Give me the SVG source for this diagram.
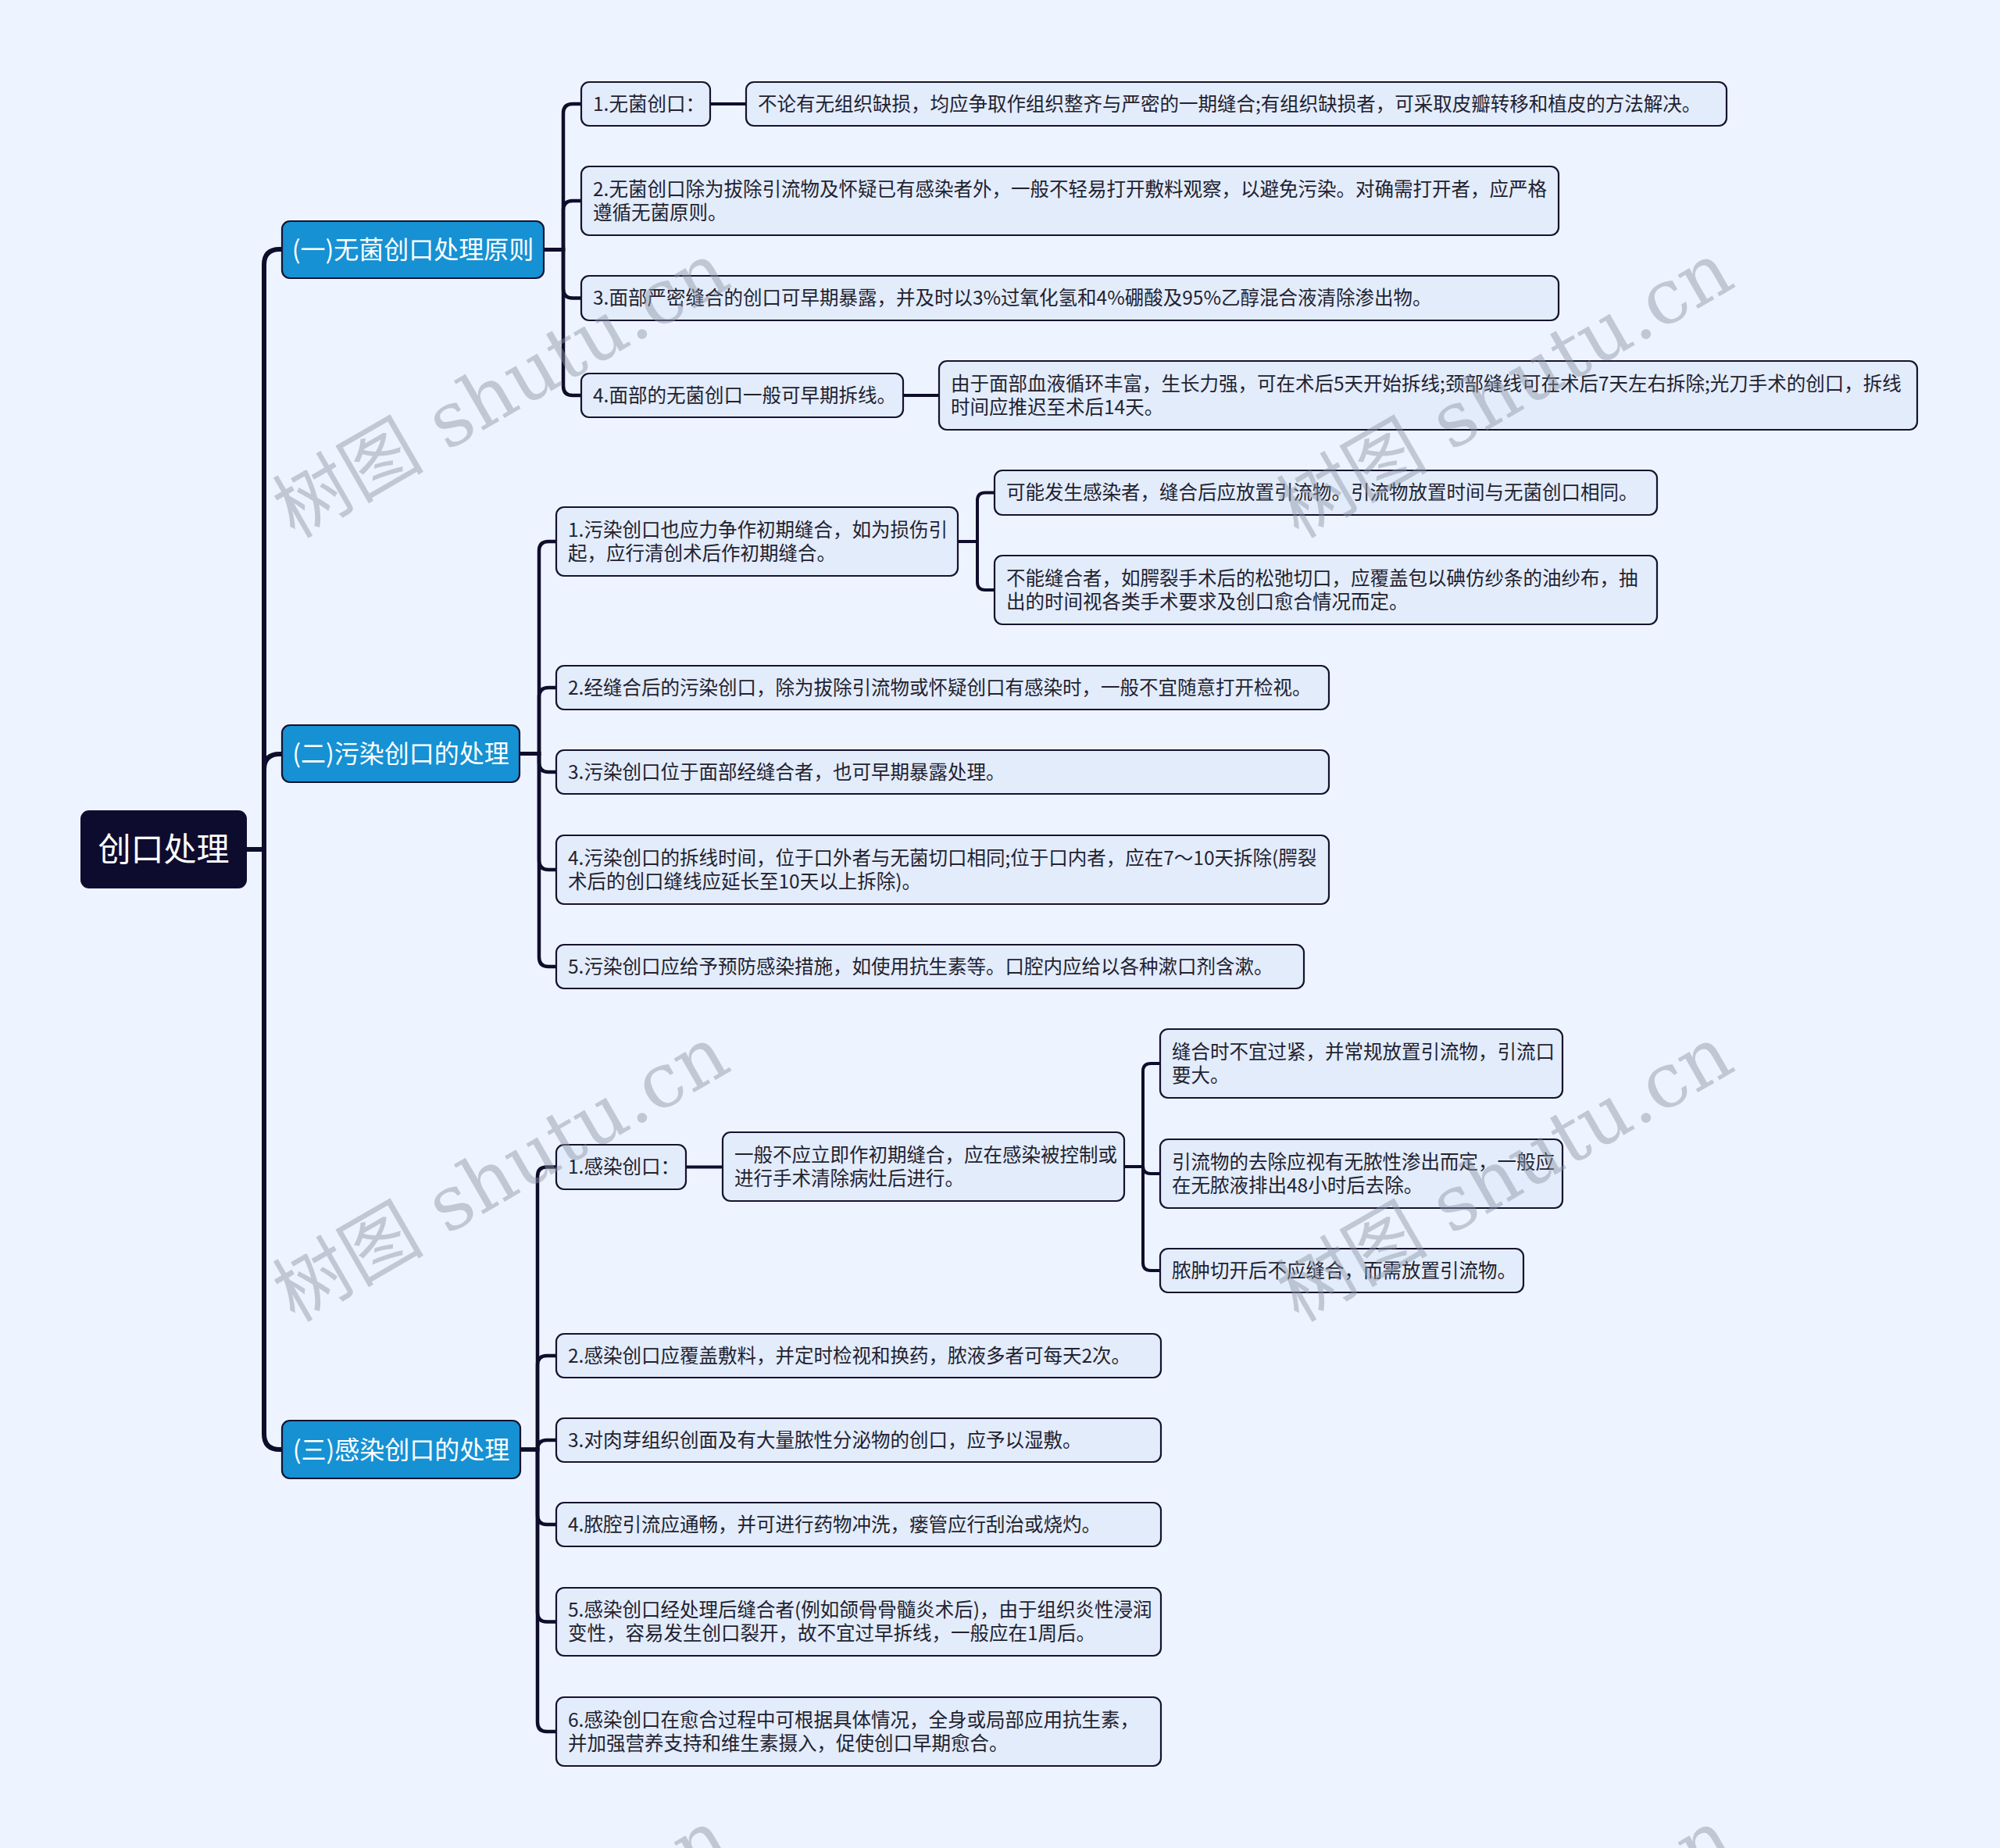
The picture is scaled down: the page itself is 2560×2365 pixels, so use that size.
<svg xmlns="http://www.w3.org/2000/svg" width="2560" height="2365" viewBox="0 0 2560 2365">
<style>
.bg{fill:#EEF4FF}
.n2{fill:#E3ECFB;stroke:#15132F;stroke-width:2.2}
.n1{fill:#1691D3;stroke:#15132F;stroke-width:2.2}
.n0{fill:#0E0C2E;stroke:#0E0C2E;stroke-width:2}
.t{font-family:"Noto Sans CJK SC","Noto Sans",sans-serif;font-size:24.5px;fill:#222230}
.t1{font-family:"Noto Sans CJK SC","Noto Sans",sans-serif;font-size:32px;fill:#FFFFFF;text-anchor:middle}
.t0{font-family:"Noto Sans CJK SC","Noto Sans",sans-serif;font-size:42px;fill:#FFFFFF;text-anchor:middle}
.c0{fill:none;stroke:#0F0D2C;stroke-width:6}
.c1{fill:none;stroke:#0F0D2C;stroke-width:4.5}
.c2{fill:none;stroke:#0F0D2C;stroke-width:4}
.wm{font-family:"DejaVu Serif","Noto Sans CJK SC",serif;font-size:97px;fill:#8C94A3;opacity:0.45}
</style>
<rect class="bg" x="0" y="0" width="2560" height="2365"/>
<g id="connectors">
<path class="c0" d="M315,1087 H338 V339 Q338,319 358,319 H361"/>
<path class="c0" d="M315,1087 H338 V985 Q338,965 358,965 H361"/>
<path class="c0" d="M315,1087 H338 V1835 Q338,1855 358,1855 H361"/>
<path class="c1" d="M696,319.5 H721 V145 Q721,133 733,133 H744"/>
<path class="c1" d="M696,319.5 H721 V269 Q721,257 733,257 H744"/>
<path class="c1" d="M696,319.5 H721 V369.5 Q721,381.5 733,381.5 H744"/>
<path class="c1" d="M696,319.5 H721 V494 Q721,506 733,506 H744"/>
<path class="c1" d="M665,964.5 H690 V705 Q690,693 702,693 H712"/>
<path class="c1" d="M665,964.5 H690 V892 Q690,880 702,880 H712"/>
<path class="c1" d="M665,964.5 H690 V976 Q690,988 702,988 H712"/>
<path class="c1" d="M665,964.5 H690 V1101 Q690,1113 702,1113 H712"/>
<path class="c1" d="M665,964.5 H690 V1225 Q690,1237 702,1237 H712"/>
<path class="c1" d="M666,1855 H688 V1505.5 Q688,1493.5 700,1493.5 H712"/>
<path class="c1" d="M666,1855 H688 V1747 Q688,1735 700,1735 H712"/>
<path class="c1" d="M666,1855 Q688,1855 688,1855 Q688,1843 700,1843 H712"/>
<path class="c1" d="M666,1855 H688 V1939 Q688,1951 700,1951 H712"/>
<path class="c1" d="M666,1855 H688 V2063.5 Q688,2075.5 700,2075.5 H712"/>
<path class="c1" d="M666,1855 H688 V2204 Q688,2216 700,2216 H712"/>
<path class="c2" d="M909,133 H955"/>
<path class="c2" d="M1156,506 H1202"/>
<path class="c2" d="M1226,693 H1251 V640.5 Q1251,630.5 1261,630.5 H1273"/>
<path class="c2" d="M1226,693 H1251 V745 Q1251,755 1261,755 H1273"/>
<path class="c2" d="M878,1493.5 H925"/>
<path class="c2" d="M1439,1493 H1463 V1371 Q1463,1361 1473,1361 H1485"/>
<path class="c2" d="M1439,1493 H1463 V1492 Q1463,1502 1473,1502 H1485"/>
<path class="c2" d="M1439,1493 H1463 V1616 Q1463,1626 1473,1626 H1485"/>
</g>
<g id="root">
<rect class="n0" x="104" y="1038" width="211" height="98" rx="10"/>
<text class="t0" x="209.5" y="1102">创口处理</text>
</g>
<g id="nA">
<rect class="n1" x="361" y="283" width="335" height="73" rx="10"/>
<text class="t1" x="528.5" y="331">(一)无菌创口处理原则</text>
</g>
<g id="nB">
<rect class="n1" x="361" y="928" width="304" height="73" rx="10"/>
<text class="t1" x="513" y="976">(二)污染创口的处理</text>
</g>
<g id="nC">
<rect class="n1" x="361" y="1818" width="305" height="74" rx="10"/>
<text class="t1" x="513.5" y="1866.5">(三)感染创口的处理</text>
</g>
<g id="nA1">
<rect class="n2" x="744" y="105" width="165" height="56" rx="10"/>
<text class="t" x="759" y="141.5">1.无菌创口：</text>
</g>
<g id="nA1c">
<rect class="n2" x="955" y="105" width="1255" height="56" rx="10"/>
<text class="t" x="970" y="141.5">不论有无组织缺损，均应争取作组织整齐与严密的一期缝合;有组织缺损者，可采取皮瓣转移和植皮的方法解决。</text>
</g>
<g id="nA2">
<rect class="n2" x="744" y="213" width="1251" height="88" rx="10"/>
<text class="t" x="759" y="250.5">2.无菌创口除为拔除引流物及怀疑已有感染者外，一般不轻易打开敷料观察，以避免污染。对确需打开者，应严格</text>
<text class="t" x="759" y="280.5">遵循无菌原则。</text>
</g>
<g id="nA3">
<rect class="n2" x="744" y="353" width="1251" height="57" rx="10"/>
<text class="t" x="759" y="390">3.面部严密缝合的创口可早期暴露，并及时以3%过氧化氢和4%硼酸及95%乙醇混合液清除渗出物。</text>
</g>
<g id="nA4">
<rect class="n2" x="744" y="478" width="412" height="56" rx="10"/>
<text class="t" x="759" y="514.5">4.面部的无菌创口一般可早期拆线。</text>
</g>
<g id="nA4c">
<rect class="n2" x="1202" y="462" width="1252" height="88" rx="10"/>
<text class="t" x="1217" y="499.5">由于面部血液循环丰富，生长力强，可在术后5天开始拆线;颈部缝线可在术后7天左右拆除;光刀手术的创口，拆线</text>
<text class="t" x="1217" y="529.5">时间应推迟至术后14天。</text>
</g>
<g id="nB1">
<rect class="n2" x="712" y="649" width="514" height="88" rx="10"/>
<text class="t" x="727" y="686.5">1.污染创口也应力争作初期缝合，如为损伤引</text>
<text class="t" x="727" y="716.5">起，应行清创术后作初期缝合。</text>
</g>
<g id="nB1a">
<rect class="n2" x="1273" y="602" width="848" height="57" rx="10"/>
<text class="t" x="1288" y="639">可能发生感染者，缝合后应放置引流物。引流物放置时间与无菌创口相同。</text>
</g>
<g id="nB1b">
<rect class="n2" x="1273" y="711" width="848" height="88" rx="10"/>
<text class="t" x="1288" y="748.5">不能缝合者，如腭裂手术后的松弛切口，应覆盖包以碘仿纱条的油纱布，抽</text>
<text class="t" x="1288" y="778.5">出的时间视各类手术要求及创口愈合情况而定。</text>
</g>
<g id="nB2">
<rect class="n2" x="712" y="852" width="989" height="56" rx="10"/>
<text class="t" x="727" y="888.5">2.经缝合后的污染创口，除为拔除引流物或怀疑创口有感染时，一般不宜随意打开检视。</text>
</g>
<g id="nB3">
<rect class="n2" x="712" y="960" width="989" height="56" rx="10"/>
<text class="t" x="727" y="996.5">3.污染创口位于面部经缝合者，也可早期暴露处理。</text>
</g>
<g id="nB4">
<rect class="n2" x="712" y="1069" width="989" height="88" rx="10"/>
<text class="t" x="727" y="1106.5">4.污染创口的拆线时间，位于口外者与无菌切口相同;位于口内者，应在7～10天拆除(腭裂</text>
<text class="t" x="727" y="1136.5">术后的创口缝线应延长至10天以上拆除)。</text>
</g>
<g id="nB5">
<rect class="n2" x="712" y="1209" width="957" height="56" rx="10"/>
<text class="t" x="727" y="1245.5">5.污染创口应给予预防感染措施，如使用抗生素等。口腔内应给以各种漱口剂含漱。</text>
</g>
<g id="nC1">
<rect class="n2" x="712" y="1465" width="166" height="57" rx="10"/>
<text class="t" x="727" y="1502">1.感染创口：</text>
</g>
<g id="nC1a">
<rect class="n2" x="925" y="1449" width="514" height="88" rx="10"/>
<text class="t" x="940" y="1486.5">一般不应立即作初期缝合，应在感染被控制或</text>
<text class="t" x="940" y="1516.5">进行手术清除病灶后进行。</text>
</g>
<g id="nC1a1">
<rect class="n2" x="1485" y="1317" width="515" height="88" rx="10"/>
<text class="t" x="1500" y="1354.5">缝合时不宜过紧，并常规放置引流物，引流口</text>
<text class="t" x="1500" y="1384.5">要大。</text>
</g>
<g id="nC1a2">
<rect class="n2" x="1485" y="1458" width="515" height="88" rx="10"/>
<text class="t" x="1500" y="1495.5">引流物的去除应视有无脓性渗出而定，一般应</text>
<text class="t" x="1500" y="1525.5">在无脓液排出48小时后去除。</text>
</g>
<g id="nC1a3">
<rect class="n2" x="1485" y="1598" width="465" height="56" rx="10"/>
<text class="t" x="1500" y="1634.5">脓肿切开后不应缝合，而需放置引流物。</text>
</g>
<g id="nC2">
<rect class="n2" x="712" y="1707" width="774" height="56" rx="10"/>
<text class="t" x="727" y="1743.5">2.感染创口应覆盖敷料，并定时检视和换药，脓液多者可每天2次。</text>
</g>
<g id="nC3">
<rect class="n2" x="712" y="1815" width="774" height="56" rx="10"/>
<text class="t" x="727" y="1851.5">3.对肉芽组织创面及有大量脓性分泌物的创口，应予以湿敷。</text>
</g>
<g id="nC4">
<rect class="n2" x="712" y="1923" width="774" height="56" rx="10"/>
<text class="t" x="727" y="1959.5">4.脓腔引流应通畅，并可进行药物冲洗，瘘管应行刮治或烧灼。</text>
</g>
<g id="nC5">
<rect class="n2" x="712" y="2032" width="774" height="87" rx="10"/>
<text class="t" x="727" y="2069">5.感染创口经处理后缝合者(例如颌骨骨髓炎术后)，由于组织炎性浸润</text>
<text class="t" x="727" y="2099">变性，容易发生创口裂开，故不宜过早拆线，一般应在1周后。</text>
</g>
<g id="nC6">
<rect class="n2" x="712" y="2172" width="774" height="88" rx="10"/>
<text class="t" x="727" y="2209.5">6.感染创口在愈合过程中可根据具体情况，全身或局部应用抗生素，</text>
<text class="t" x="727" y="2239.5">并加强营养支持和维生素摄入，促使创口早期愈合。</text>
</g>
<g id="watermarks">
<text class="wm" transform="translate(377,690) rotate(-30)">树图 shutu.cn</text>
<text class="wm" transform="translate(1662,690) rotate(-30)">树图 shutu.cn</text>
<text class="wm" transform="translate(377,1693) rotate(-30)">树图 shutu.cn</text>
<text class="wm" transform="translate(1662,1693) rotate(-30)">树图 shutu.cn</text>
<text class="wm" transform="translate(377,2696) rotate(-30)">树图 shutu.cn</text>
<text class="wm" transform="translate(1662,2696) rotate(-30)">树图 shutu.cn</text>
</g>
</svg>
